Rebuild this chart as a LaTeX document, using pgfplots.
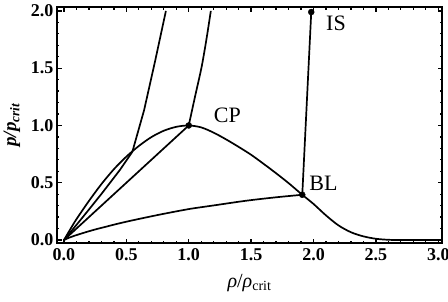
\documentclass[border=0pt]{standalone}
\usepackage{fontspec}
\setmainfont{Liberation Serif}
\usepackage{pgfplots}
\pgfplotsset{compat=1.18}
\begin{document}
\begin{tikzpicture}
\begin{axis}[
  scale only axis,
  width=385pt, height=236pt,
  xmin=-0.056, xmax=3.03, ymin=-0.026, ymax=2.034,
  xtick={0,0.5,...,3}, ytick={0,0.5,...,2},
  minor x tick num=4, minor y tick num=4,
  tick align=inside,
  major tick length=4.5pt, minor tick length=2.5pt,
  axis line style={line width=1.6pt},
  every tick/.style={black, line width=1.3pt},
  /pgf/number format/assume math mode=true,
  /pgf/number format/.cd, fixed, fixed zerofill, precision=1, /pgfplots/.cd,
  tick label style={font=\fontsize{18}{18}\selectfont\bfseries},
  xticklabel style={yshift=-2pt},
  yticklabel style={xshift=0pt},
  xlabel={\fontsize{20}{20}\selectfont\textit{ρ}/\textit{ρ}\textsubscript{crit}},
  ylabel={\fontsize{19}{20}\selectfont\bfseries\itshape p/p\textsubscript{crit}},
  xlabel style={yshift=-7pt},
  ylabel style={yshift=4pt},
  clip=true,
]
% bell curve
\addplot[black, line width=1.7pt, smooth, tension=0.5] coordinates {
(0,0)(0.05,0.093)(0.1,0.182)(0.2,0.341)(0.3,0.488)(0.4,0.618)(0.5,0.728)
(0.6,0.821)(0.7,0.898)(0.8,0.954)(0.9,0.988)(1.0,1.0)(1.1,0.983)(1.2,0.937)
(1.3,0.878)(1.4,0.813)(1.5,0.744)(1.6,0.665)(1.7,0.583)(1.8,0.497)(1.91,0.395)
(2.0,0.315)(2.1,0.215)(2.2,0.128)(2.3,0.068)(2.4,0.032)(2.5,0.011)(2.6,0.002)
(2.7,0)(2.85,0)(3.0,0)};
% curve 3 (leftmost)
\addplot[black, line width=1.7pt] coordinates {
(0,0)(0.1,0.132)(0.2,0.266)(0.3,0.402)(0.447,0.61)(0.548,0.77)
(0.642,1.133)(0.73,1.56)(0.817,2.0)};
% line origin to CP, then upward
\addplot[black, line width=1.7pt] coordinates {
(0,0)(1,1)};
\addplot[black, line width=1.7pt, smooth] coordinates {
(1,1)(1.05,1.25)(1.103,1.51)(1.143,1.76)(1.177,2.0)};
% bottom curve to BL
\addplot[black, line width=1.7pt, smooth] coordinates {
(0,0)(0.05,0.024)(0.12,0.05)(0.233,0.087)(0.35,0.12)(0.5,0.16)(0.75,0.218)
(1.0,0.27)(1.2,0.302)(1.46,0.343)(1.7,0.373)(1.91,0.395)};
% BL to IS
\addplot[black, line width=1.7pt] coordinates {(1.91,0.395)(1.982,1.99)};
% points
\addplot[only marks, mark=*, mark size=3pt, black] coordinates {(1,1)(1.91,0.395)(1.982,1.99)};
\node[font=\fontsize{22}{22}\selectfont] at (axis cs:1.31,1.09) {CP};
\node[font=\fontsize{22}{22}\selectfont] at (axis cs:2.18,1.895) {IS};
\node[font=\fontsize{22}{22}\selectfont] at (axis cs:2.08,0.495) {BL};
\end{axis}
\pgfresetboundingbox
\path ([shift={(-57pt,-58pt)}]current axis.south west) rectangle ([shift={(6pt,7pt)}]current axis.north east);
\end{tikzpicture}
\end{document}
